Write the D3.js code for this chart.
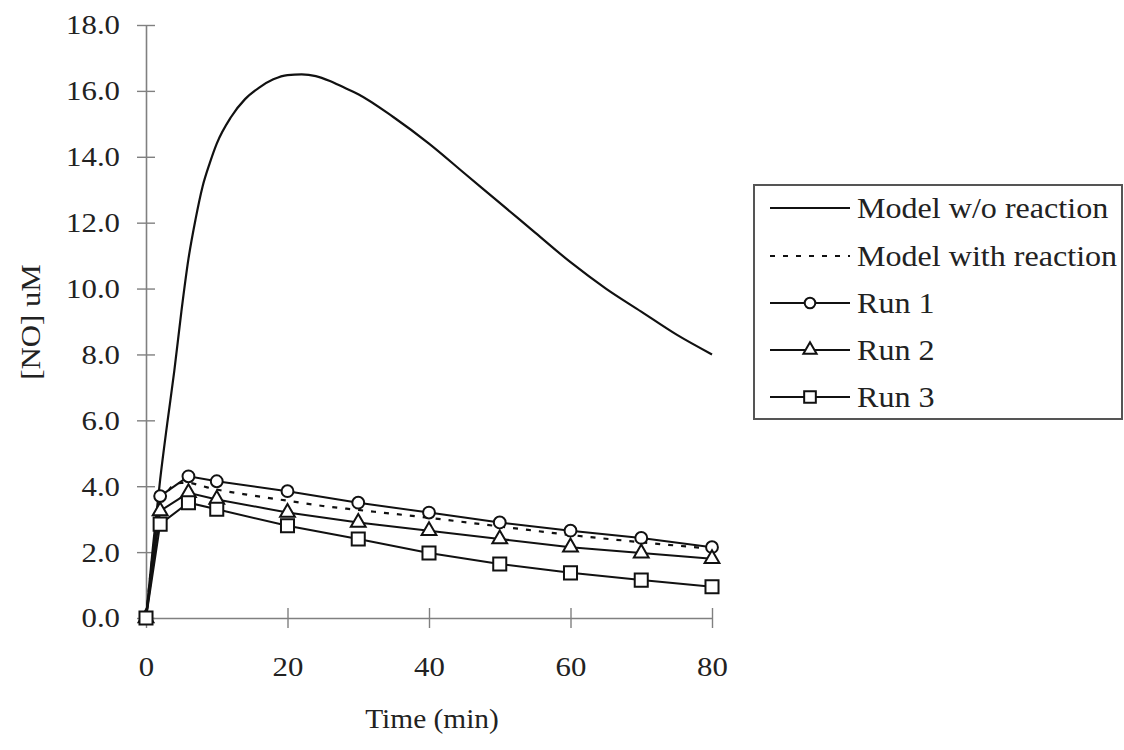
<!DOCTYPE html>
<html><head><meta charset="utf-8">
<script src="https://cdn.jsdelivr.net/npm/d3@7"></script>
<style>body{margin:0;background:#fff}svg{display:block}text{font-family:"Liberation Serif","Times New Roman",serif;fill:#222}</style>
</head><body><svg id="c" width="1124" height="750"></svg>
<script>
// ---- data ----
const modelTimes = [0,1,2,3,4,5,6,7,8,9,10,12,14,16,18,20,22,24,26,28,30,35,40,45,50,55,60,65,70,75,80];
const modelNoReaction = [0,2.2,4.2,5.9,7.5,9.3,10.9,12.1,13.1,13.8,14.4,15.2,15.75,16.1,16.35,16.48,16.5,16.45,16.3,16.1,15.9,15.2,14.4,13.5,12.6,11.7,10.8,10.0,9.3,8.6,8.0];
const modelReactTimes = [0,1,2,3,4,5,6,8,10,15,20,25,30,40,50,60,70,80];
const modelWithReaction = [0,2.0,3.3,3.8,4.05,4.1,4.1,4.0,3.9,3.72,3.56,3.4,3.28,3.04,2.78,2.52,2.3,2.1];
const runTimes = [0,2,6,10,20,30,40,50,60,70,80];
const run1 = [0,3.7,4.3,4.15,3.85,3.5,3.2,2.9,2.65,2.43,2.15];
const run2 = [0,3.25,3.8,3.6,3.2,2.9,2.65,2.4,2.15,1.97,1.8];
const run3 = [0,2.85,3.5,3.3,2.8,2.4,1.97,1.64,1.37,1.15,0.95];
const xTicks = [0,20,40,60,80];
const yTicks = [0,2,4,6,8,10,12,14,16,18];
const legendLabels = ["Model w/o reaction","Model with reaction","Run 1","Run 2","Run 3"];

const svg = d3.select("#c");
const x = d3.scaleLinear().domain([0,80]).range([146,712]);
const y = d3.scaleLinear().domain([0,18]).range([618,25]);
const axisCol = "#808080";
const SX = 1.1; // horizontal stretch of the scanned serif text

// axes
const gx = svg.append("g").attr("transform",`translate(0,${y(0)})`)
  .call(d3.axisBottom(x).tickValues(xTicks).tickSize(0).tickPadding(38).tickFormat(d3.format("d")));
const gy = svg.append("g").attr("transform",`translate(${x(0)},0)`)
  .call(d3.axisLeft(y).tickValues(yTicks).tickSize(0).tickPadding(26).tickFormat(d3.format(".1f")));
[gx,gy].forEach(g=>{
  g.select(".domain").attr("stroke",axisCol).attr("stroke-width",1.6);
  g.selectAll("text").attr("font-size",28).attr("fill","#222").attr("font-family","Liberation Serif");
});
gx.selectAll(".tick text").attr("transform",`scale(${SX},1)`);
gy.selectAll(".tick text").attr("x",-26/SX).attr("transform",`scale(${SX},1)`);
gx.selectAll(".tick").append("line").attr("y1",-10).attr("y2",10).attr("stroke",axisCol).attr("stroke-width",1.4);
gy.selectAll(".tick").append("line").attr("x1",-9).attr("x2",9).attr("stroke",axisCol).attr("stroke-width",1.4);

svg.append("text").attr("transform",`translate(432,728) scale(1.05,1)`).attr("text-anchor","middle").attr("font-size",28).text("Time (min)");
svg.append("text").attr("transform","translate(40,322) rotate(-90) scale(1.1,1)").attr("text-anchor","middle").attr("font-size",28).text("[NO] uM");

// lines
const smooth = d3.line().x(d=>x(d[0])).y(d=>y(d[1])).curve(d3.curveMonotoneX);
const straight = d3.line().x(d=>x(d[0])).y(d=>y(d[1]));
svg.append("path").attr("d",smooth(d3.zip(modelTimes,modelNoReaction))).attr("fill","none").attr("stroke","#111").attr("stroke-width",2.2);
svg.append("path").attr("d",smooth(d3.zip(modelReactTimes,modelWithReaction))).attr("fill","none").attr("stroke","#111").attr("stroke-width",2.2).attr("stroke-dasharray","5,8");

const runs = [run1,run2,run3];
const sym = [d3.symbolCircle, d3.symbolTriangle, d3.symbolSquare];
const symSize = [110, 95, 170];
runs.forEach((r,i)=>{
  const pts = d3.zip(runTimes,r);
  svg.append("path").attr("d",straight(pts)).attr("fill","none").attr("stroke","#111").attr("stroke-width",2);
  svg.append("g").selectAll("path").data(pts).join("path")
    .attr("transform",d=>`translate(${x(d[0])},${y(d[1])})`)
    .attr("d",d3.symbol().type(sym[i]).size(symSize[i]))
    .attr("fill","#fff").attr("stroke","#111").attr("stroke-width",2);
});

// legend
const lg = svg.append("g");
lg.append("rect").attr("x",754).attr("y",185).attr("width",368).attr("height",234).attr("fill","#fff").attr("stroke","#555").attr("stroke-width",2);
const rowY = [208,256,303,350,397];
legendLabels.forEach((lab,i)=>{
  const ly = rowY[i];
  const ln = lg.append("line").attr("x1",770).attr("x2",850).attr("y1",ly).attr("y2",ly).attr("stroke","#111").attr("stroke-width",2);
  if(i===1) ln.attr("stroke-dasharray","5,8");
  if(i>=2){
    lg.append("path").attr("transform",`translate(810,${ly})`).attr("d",d3.symbol().type(sym[i-2]).size(symSize[i-2]*0.8))
      .attr("fill","#fff").attr("stroke","#111").attr("stroke-width",2);
  }
  lg.append("text").attr("transform",`translate(857,${ly+10}) scale(1.07,1)`).attr("font-size",30).text(lab);
});
</script></body></html>
